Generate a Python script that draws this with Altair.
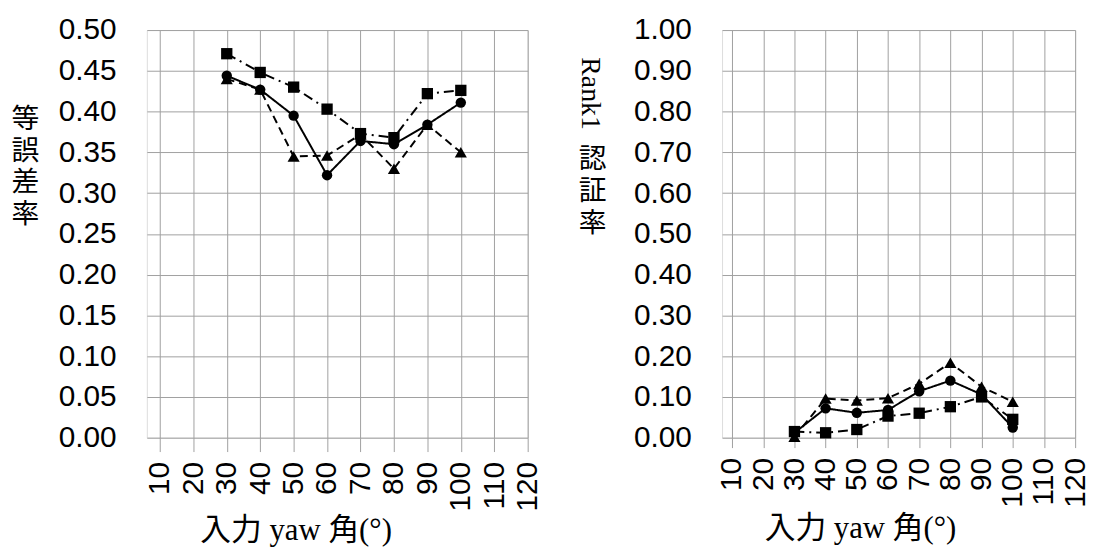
import altair as alt
import pandas as pd

yaw = [30, 40, 50, 60, 70, 80, 90, 100]
series = ["circle", "square", "triangle"]

eer_square = [0.471, 0.448, 0.430, 0.403, 0.373, 0.368, 0.422, 0.426]
eer_circle = [0.444, 0.427, 0.395, 0.322, 0.364, 0.360, 0.384, 0.411]
eer_triangle = [0.440, 0.427, 0.345, 0.346, 0.372, 0.330, 0.384, 0.350]

r1_square = [0.015, 0.012, 0.020, 0.053, 0.060, 0.076, 0.100, 0.045]
r1_circle = [0.012, 0.072, 0.061, 0.068, 0.114, 0.140, 0.106, 0.025]
r1_triangle = [0.002, 0.096, 0.091, 0.097, 0.132, 0.184, 0.125, 0.088]

x_ticks = [10, 20, 30, 40, 50, 60, 70, 80, 90, 100, 110, 120]
eer_ticks = [0.00, 0.05, 0.10, 0.15, 0.20, 0.25, 0.30, 0.35, 0.40, 0.45, 0.50]
r1_ticks = [0.0, 0.1, 0.2, 0.3, 0.4, 0.5, 0.6, 0.7, 0.8, 0.9, 1.0]

x_title = "入力 yaw 角(°)"


def long_df(c, s, t):
    rows = []
    for name, vals in zip(series, [c, s, t]):
        for x, v in zip(yaw, vals):
            rows.append({"yaw": x, "value": v, "series": name})
    return pd.DataFrame(rows)


SANS = "Liberation Sans"
SERIF = "'Liberation Serif', 'Noto Sans CJK JP'"
CJK = "'Noto Sans CJK JP'"
GRID = "#a0a0a0"


def panel(df, ydomain, yticks, xmin, tick_size, ytitle, ytitle_x, ytitle_y,
          xtitle_x, xtitle_y):
    xenc = alt.X(
        "yaw:Q",
        scale=alt.Scale(domain=[xmin, 120], nice=False, zero=False),
        axis=alt.Axis(
            values=x_ticks, labelAngle=-90, labelFont=SANS, labelFontSize=30,
            labelColor="black", labelPadding=10, tickSize=tick_size, tickColor=GRID,
            domain=False, grid=True, gridColor=GRID, title=x_title,
            titleFont=SERIF, titleFontSize=31, titleFontWeight="normal",
            titleColor="black", titleX=xtitle_x, titleY=xtitle_y,
            titleAlign="center", titleBaseline="alphabetic", titleAnchor=None,
        ),
    )
    yenc = alt.Y(
        "value:Q",
        scale=alt.Scale(domain=ydomain, nice=False, zero=True),
        axis=alt.Axis(
            values=yticks, format=".2f", labelFont=SANS, labelFontSize=30,
            labelColor="black", labelPadding=31, ticks=False, domain=False,
            grid=True, gridColor=GRID, title=ytitle, titleAngle=0,
            titleFont=CJK, titleFontSize=28, titleFontWeight="normal",
            titleColor="black", titleX=ytitle_x, titleY=ytitle_y,
            titleAlign="center", titleBaseline="top", titleLineHeight=32,
        ),
    )
    base = alt.Chart(df)
    line = base.mark_line(color="black", strokeWidth=2).encode(
        x=xenc, y=yenc, detail="series:N",
        strokeDash=alt.StrokeDash(
            "series:N",
            scale=alt.Scale(domain=series, range=[[1, 0], [10, 5, 2, 5], [8, 5]]),
            legend=None,
        ),
    )
    pts = base.mark_point(filled=True, color="black", opacity=1).encode(
        x=xenc, y=yenc,
        shape=alt.Shape(
            "series:N",
            scale=alt.Scale(domain=series, range=["circle", "square", "triangle-up"]),
            legend=None,
        ),
        size=alt.Size(
            "series:O",
            scale=alt.Scale(domain=series, range=[110, 150, 110]),
            legend=None,
        ),
    )
    return line + pts


left = panel(
    long_df(eer_circle, eer_square, eer_triangle), [0, 0.5], eer_ticks, 6.1, 14,
    ["等", "誤", "差", "率"], -123, 76, 150, 103,
).properties(width=384, height=411)

rank_label = alt.Chart(pd.DataFrame({"t": ["Rank1"]})).mark_text(
    angle=90, font="Liberation Serif", fontSize=28, color="black",
    align="center", baseline="middle",
).encode(x=alt.value(-133), y=alt.value(64), text="t:N")

right = alt.layer(
    panel(
        long_df(r1_circle, r1_square, r1_triangle), [0, 1.0], r1_ticks, 6.8, 10,
        ["認", "証", "率"], -131, 117, 139, 101,
    ),
    rank_label,
).properties(width=356, height=411)

chart = alt.hconcat(left, right, spacing=32).properties(
    padding={"left": 2, "top": 4, "right": 0, "bottom": 0}
).configure_view(stroke=None).configure(font=SANS)

chart.save("out.html", embed_options={"renderer": "svg", "actions": False})
